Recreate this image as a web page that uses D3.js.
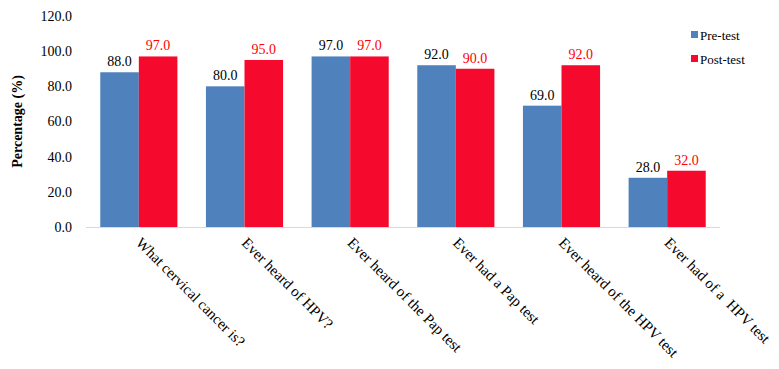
<!DOCTYPE html>
<html lang="en">
	<head>
		<meta charset="utf-8">
		<title>Pre/Post test</title>
		<script src="https://cdn.jsdelivr.net/npm/d3@7"></script>
		<style>
			body { margin: 0; background: #fff; }
			text { font-family: "Liberation Serif", "Times New Roman", serif; }
		</style>
	</head>
	<body>
		<script>
			var w = 779, h = 369;
			var font = "Liberation Serif, Times New Roman, serif";

			// data
			var categories = ["What cervical cancer is?", "Ever heard of HPV?", "Ever heard of the Pap test",
				"Ever had a Pap test", "Ever heard of the HPV test", "Ever had of a  HPV test"];
			var seriesNames = ["Pre-test", "Post-test"];
			var preTest = [88.0, 80.0, 97.0, 92.0, 69.0, 28.0];
			var postTest = [97.0, 95.0, 97.0, 90.0, 92.0, 32.0];
			var yTicks = [0, 20, 40, 60, 80, 100, 120];

			var colors = ["#4F81BD", "#F50A2D"];
			var labelColors = ["#000000", "#FF0000"];

			var margin = {left: 86, right: 59, top: 16, bottom: 142};

			var svg = d3.select("body").append("svg")
				.attr("width", w)
				.attr("height", h);

			var x0 = d3.scaleBand()
				.domain(categories)
				.range([margin.left, w - margin.right])
				.paddingInner(0.27)
				.paddingOuter(0.135);

			var x1 = d3.scaleBand()
				.domain(seriesNames)
				.range([0, x0.bandwidth()]);

			var y = d3.scaleLinear()
				.domain([0, 120])
				.range([h - margin.bottom, margin.top]);

			// y axis labels (no line)
			svg.selectAll(".ytick")
				.data(yTicks)
				.enter()
				.append("text")
				.attr("class", "ytick")
				.attr("x", 72)
				.attr("y", function(d) { return y(d); })
				.attr("dy", "0.35em")
				.attr("text-anchor", "end")
				.attr("font-family", font)
				.attr("font-size", "14px")
				.attr("fill", "#000")
				.text(function(d) { return d3.format(".1f")(d); });

			svg.append("text")
				.attr("transform", "translate(22," + y(60) + ") rotate(-90)")
				.attr("text-anchor", "middle")
				.attr("font-family", font)
				.attr("font-size", "14px")
				.attr("font-weight", "bold")
				.text("Percentage (%)");

			var rows = categories.map(function(c, i) {
				return {cat: c, vals: [preTest[i], postTest[i]]};
			});

			var groups = svg.selectAll(".grp")
				.data(rows)
				.enter()
				.append("g")
				.attr("class", "grp")
				.attr("transform", function(d) { return "translate(" + x0(d.cat) + ",0)"; });

			groups.selectAll("rect")
				.data(function(d) { return d.vals.map(function(v, j) { return {s: seriesNames[j], v: v, j: j}; }); })
				.enter()
				.append("rect")
				.attr("x", function(d) { return x1(d.s); })
				.attr("y", function(d) { return y(d.v); })
				.attr("width", x1.bandwidth())
				.attr("height", function(d) { return y(0) - y(d.v); })
				.attr("fill", function(d) { return colors[d.j]; });

			groups.selectAll(".val")
				.data(function(d) { return d.vals.map(function(v, j) { return {s: seriesNames[j], v: v, j: j}; }); })
				.enter()
				.append("text")
				.attr("class", "val")
				.attr("x", function(d) { return x1(d.s) + x1.bandwidth() / 2; })
				.attr("y", function(d) { return y(d.v) - 6; })
				.attr("text-anchor", "middle")
				.attr("font-family", font)
				.attr("font-size", "14px")
				.attr("fill", function(d) { return labelColors[d.j]; })
				.text(function(d) { return d3.format(".1f")(d.v); });

			// x axis baseline
			svg.append("line")
				.attr("x1", margin.left)
				.attr("x2", w - margin.right)
				.attr("y1", y(0) + 0.5)
				.attr("y2", y(0) + 0.5)
				.attr("stroke", "#D9D9D9")
				.attr("stroke-width", 1);

			// rotated category labels
			svg.selectAll(".xlab")
				.data(categories)
				.enter()
				.append("text")
				.attr("class", "xlab")
				.attr("transform", function(d) {
					return "translate(" + (x0(d) + x0.bandwidth() / 2) + "," + (y(0) + 13) + ") rotate(45)";
				})
				.attr("text-anchor", "start")
				.attr("dy", "0.35em")
				.attr("font-family", font)
				.attr("font-size", "15px")
				.attr("fill", "#000")
				.style("white-space", "pre")
				.text(function(d) { return d; });

			// legend
			var legend = svg.selectAll(".leg")
				.data(seriesNames)
				.enter()
				.append("g")
				.attr("class", "leg")
				.attr("transform", function(d, i) { return "translate(691," + (35 + i * 24) + ")"; });

			legend.append("rect")
				.attr("x", 0)
				.attr("y", -4)
				.attr("width", 7)
				.attr("height", 7)
				.attr("fill", function(d, i) { return colors[i]; });

			legend.append("text")
				.attr("x", 9)
				.attr("y", 0)
				.attr("dy", "0.35em")
				.attr("font-family", font)
				.attr("font-size", "13px")
				.text(function(d) { return d; });
		</script>
	</body>
</html>
